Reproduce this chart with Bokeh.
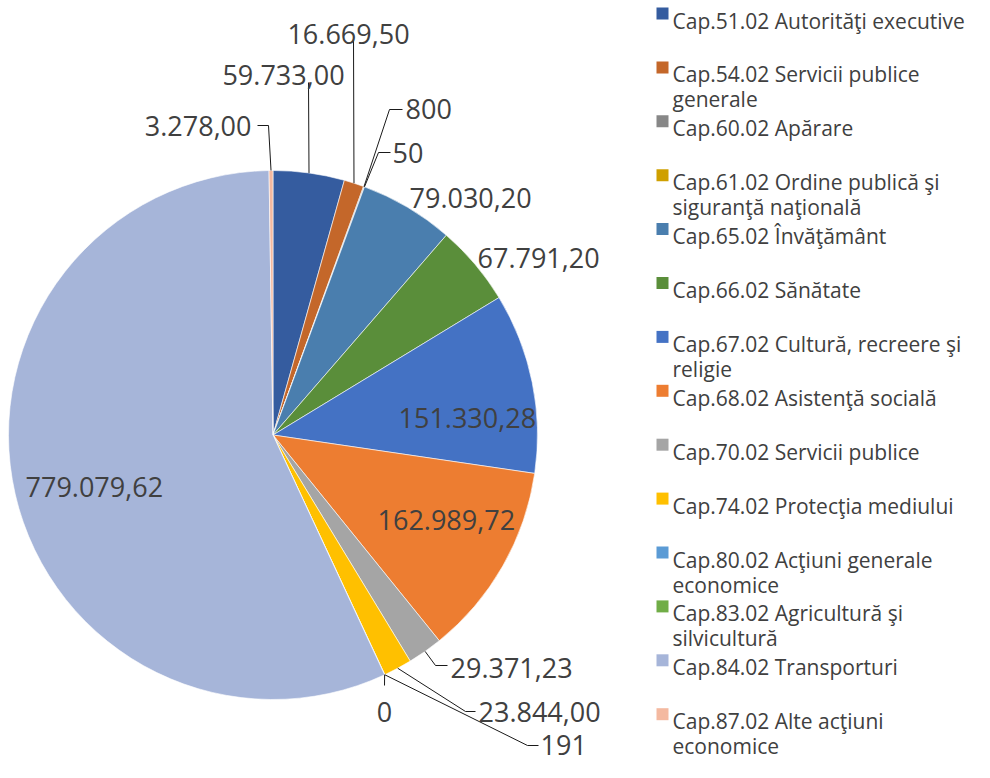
import math
from bokeh.plotting import figure
from bokeh.models import Range1d, ColumnDataSource
from bokeh.core.properties import value
from bokeh.embed import file_html
from bokeh.resources import INLINE

# ---------------- data ----------------
categories = [
    "Cap.51.02 Autorităţi executive",
    "Cap.54.02 Servicii publice\ngenerale",
    "Cap.60.02 Apărare",
    "Cap.61.02 Ordine publică şi\nsiguranţă naţională",
    "Cap.65.02 Învăţământ",
    "Cap.66.02 Sănătate",
    "Cap.67.02 Cultură, recreere şi\nreligie",
    "Cap.68.02 Asistenţă socială",
    "Cap.70.02 Servicii publice",
    "Cap.74.02 Protecţia mediului",
    "Cap.80.02 Acţiuni generale\neconomice",
    "Cap.83.02 Agricultură şi\nsilvicultură",
    "Cap.84.02 Transporturi",
    "Cap.87.02 Alte acţiuni\neconomice",
]
values = [59733.00, 16669.50, 800, 50, 79030.20, 67791.20, 151330.28,
          162989.72, 29371.23, 23844.00, 191, 0, 779079.62, 3278.00]
decimals = [2, 2, 0, 0, 2, 2, 2, 2, 2, 2, 0, 0, 2, 2]
colors = ["#355C9F", "#C4672A", "#878787", "#CFA000", "#4A7EAE", "#5A8E3A",
          "#4472C4", "#ED7D31", "#A5A5A5", "#FFC000", "#5B9BD5", "#70AD47",
          "#A6B5D9", "#F4B9A0"]


def fmt_ro(v, d):
    s = f"{v:,.{d}f}"
    return s.replace(",", "X").replace(".", ",").replace("X", ".")


labels = [fmt_ro(v, d) for v, d in zip(values, decimals)]

# ---------------- layout (picture pixel coordinates) ----------------
W, H = 974, 762
CX, CY, R = 272.5, 434.5, 264.5          # pie centre / radius
LABEL_FONT = "27px"
LEGEND_FONT = "21px"
TXT = "#404040"

# per slice: (text x, text baseline y, align, elbow points from label side)
label_layout = [
    (283, 74, "center", [(308, 82)]),
    (348, 33, "center", [(353, 39)]),
    (405, 108, "left", [(402, 109), (389, 109)]),
    (392, 152, "left", [(390, 152), (378, 152)]),
    (409, 197, "left", None),
    (477, 257, "left", None),
    (398, 417, "left", None),
    (377, 519, "left", None),
    (450, 667, "left", [(447, 665), (435, 665)]),
    (478, 711, "left", [(475, 711), (465, 711)]),
    (540, 744, "left", [(538, 745), (527, 745)]),
    (384, 711, "center", [(384, 685)]),
    (25, 486, "left", None),
    (251, 125, "right", [(257, 125), (268, 125)]),
]

p = figure(width=W, height=H, output_backend="svg", toolbar_location=None,
           x_range=Range1d(0, W), y_range=Range1d(-H, 0),
           min_border=0, outline_line_color=None)
p.axis.visible = False
p.grid.visible = False

total = sum(values)
starts, ends, cols, mids = [], [], [], []
cum = 0.0
for v, c in zip(values, colors):
    f0 = cum / total
    cum += v
    f1 = cum / total
    mids.append((f0 + f1) / 2)
    if v > 0:
        starts.append(math.pi / 2 - 2 * math.pi * f1)
        ends.append(math.pi / 2 - 2 * math.pi * f0)
        cols.append(c)

src = ColumnDataSource(dict(start=starts, end=ends, color=cols))
p.wedge(x=CX, y=-CY, radius=R, start_angle="start", end_angle="end",
        fill_color="color", line_color="white", line_width=0.6, source=src)

# leader lines & data labels
xs, ys = [], []
lx, ly, lt, la = [], [], [], []
for i, (tx, ty, al, elbows) in enumerate(label_layout):
    lx.append(tx)
    ly.append(-ty)
    lt.append(labels[i])
    la.append(al)
    if elbows:
        ang = 2 * math.pi * mids[i]
        ax = CX + R * math.sin(ang)
        ay = CY - R * math.cos(ang)
        pts = list(elbows) + [(ax, ay)]
        xs.append([pt[0] for pt in pts])
        ys.append([-pt[1] for pt in pts])

p.multi_line(xs=xs, ys=ys, line_color="#1a1a1a", line_width=1)
p.text(x=lx, y=ly, text=lt, text_align=la, text_baseline="alphabetic",
       text_font=value("Open Sans"), text_font_size=LABEL_FONT,
       text_color=TXT)

# legend (manual)
LEG_X_SQ, LEG_X_TXT = 662, 672
LEG_Y0, LEG_STEP, LINE_H = 20, 53.9, 25
sq_x, sq_y, tx_x, tx_y, tx_t = [], [], [], [], []
for i, (cat, col) in enumerate(zip(categories, colors)):
    base = LEG_Y0 + LEG_STEP * i
    sq_x.append(LEG_X_SQ)
    sq_y.append(-(base - 7))
    for j, line in enumerate(cat.split("\n")):
        tx_x.append(LEG_X_TXT)
        tx_y.append(-(base + j * LINE_H))
        tx_t.append(line)

p.scatter(x=sq_x, y=sq_y, marker="square", size=12, fill_color=colors,
          line_color=None)
p.text(x=tx_x, y=tx_y, text=tx_t, text_align="left",
       text_baseline="alphabetic", text_font=value("Open Sans"),
       text_font_size=LEGEND_FONT, text_color=TXT)

open("out.html", "w").write(file_html(p, INLINE))
